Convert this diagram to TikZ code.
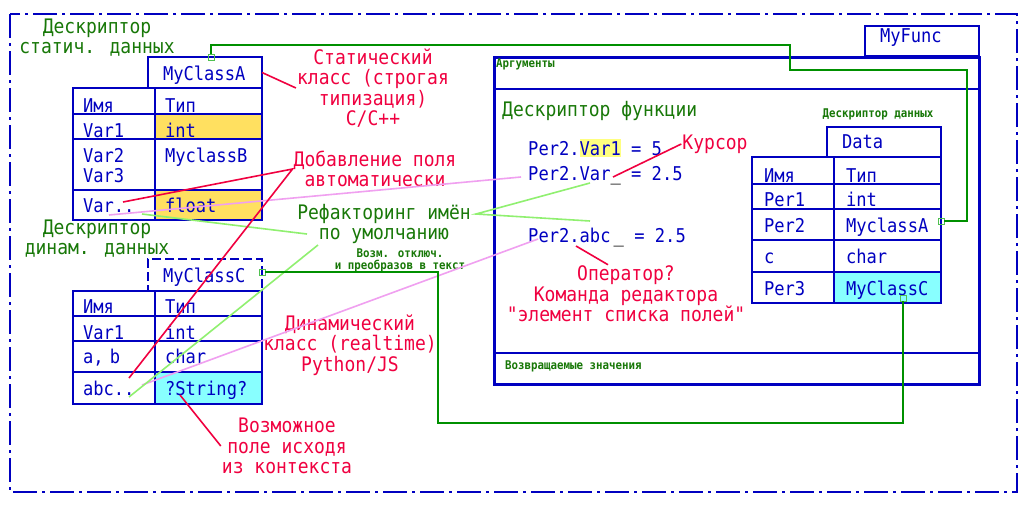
\documentclass[tikz,border=0pt]{standalone}
\usepackage{fontspec}
\usepackage{xcolor}
\usepackage{tikz}
\newfontfamily\cadfont[FakeStretch=0.9]{DejaVu Sans Mono}
\definecolor{cadblue}{RGB}{0,0,192}
\definecolor{cadgreen}{RGB}{24,120,8}
\definecolor{cadred}{RGB}{240,0,64}
\definecolor{linkgreen}{RGB}{0,144,0}
\definecolor{portgreen}{RGB}{80,192,80}
\definecolor{refgreen}{RGB}{144,240,112}
\definecolor{pinkline}{RGB}{240,160,240}
\definecolor{cadyellow}{RGB}{255,224,96}
\definecolor{cadcyan}{RGB}{136,255,255}
\definecolor{hilite}{RGB}{255,255,128}
\tikzset{
  % --- sheet and function frame ----------------------------------------------
  sheet/.style={draw=cadblue,line width=2pt,
                dash pattern=on 24pt off 5pt on 3pt off 5pt},
  funcframe/.style={draw=cadblue,line width=3pt,anchor=north west,inner sep=0pt,
                    outer sep=0pt,minimum width=485pt,minimum height=327pt},
  sepline/.style={cadblue,line width=2pt},
  % --- descriptor tables -----------------------------------------------------
  cell/.style={draw=cadblue,line width=2pt,anchor=north west,inner sep=0pt,
               outer sep=0pt,inner xsep=10pt,align=left,text=cadblue,
               font=\cadfont\fontsize{19}{20}\selectfont},
  hdr/.style={draw=cadblue,line width=1.2pt,anchor=north west,inner sep=0pt,
              outer sep=0pt,inner xsep=15pt,text width=84pt,align=left,
              text=cadblue,font=\cadfont\fontsize{19}{20}\selectfont},
  code/.style={anchor=base west,inner sep=0pt,text=cadblue,
               font=\cadfont\fontsize{19}{20}\selectfont},
  % --- annotations -----------------------------------------------------------
  redlab/.style={text=cadred,align=center,inner sep=1pt,
                 font=\cadfont\fontsize{20}{20.5}\selectfont},
  grnlab/.style={text=cadgreen,align=center,inner sep=1pt,
                 font=\cadfont\fontsize{20}{20}\selectfont},
  tinylab/.style={text=cadgreen,align=center,inner sep=1pt,
                  font=\cadfont\bfseries\fontsize{12}{12}\selectfont},
  % --- connectors ------------------------------------------------------------
  link/.style={linkgreen,line width=2pt},
  port/.style={draw=portgreen,line width=0.8pt,minimum size=6pt,inner sep=0pt},
  redln/.style={cadred,line width=1.6pt},
  pinkln/.style={pinkline,line width=1.6pt},
  grnln/.style={refgreen,line width=1.6pt},
}

\begin{document}
\begin{tikzpicture}[x=1pt,y=-1pt,font=\cadfont]
  \useasboundingbox (0,0) rectangle (1033,504);
  \fill[white] (0,0) rectangle (1033,504);
  \draw[sheet] (10,14) rectangle (1017,492);

  \def\xa{73}    % left edge, tables A and C
  \def\xb{155}   % column split, tables A and C
  \def\xd{752}   % left edge, Data
  \def\xe{834}   % column split, Data

  % {row}{top}{height}{baseline above bottom: name, type}{name}{type}{fill}
  \foreach \i/\ry/\rh/\bn/\bt/\nm/\tp/\fl in {%
      1/88/26/2/2/Имя/Тип/white,
      2/114/25/2/2/Var1/int/cadyellow,
      3/139/51/28/28/{Var2\\Var3}/MyclassB/white,
      4/190/30/8/8/Var../float/cadyellow}
  {
    \pgfmathsetmacro{\tha}{\rh-2-\bn}
    \pgfmathsetmacro{\tda}{\bn-2}
    \pgfmathsetmacro{\thb}{\rh-2-\bt}
    \pgfmathsetmacro{\tdb}{\bt-2}
    \node[cell,text width=62pt,minimum height=\rh pt,text height=\tha pt,
          text depth=\tda pt] (A-n\i) at (\xa,\ry) {\nm};
    \node[cell,fill=\fl,text width=87pt,minimum height=\rh pt,
          text height=\thb pt,text depth=\tdb pt] (A-t\i) at (\xb,\ry) {\tp};
  }
  \foreach \i/\ry/\rh/\bn/\bt/\nm/\tp/\fl in {%
      1/291/25/3/3/Имя/Тип/white,
      2/316/25/2/2/Var1/int/white,
      3/341/31/9/9/{a, b}/char/white,
      4/372/32/9/9/abc../?String?/cadcyan}
  {
    \pgfmathsetmacro{\tha}{\rh-2-\bn}
    \pgfmathsetmacro{\tda}{\bn-2}
    \pgfmathsetmacro{\thb}{\rh-2-\bt}
    \pgfmathsetmacro{\tdb}{\bt-2}
    \node[cell,text width=62pt,minimum height=\rh pt,text height=\tha pt,
          text depth=\tda pt] (C-n\i) at (\xa,\ry) {\nm};
    \node[cell,fill=\fl,text width=87pt,minimum height=\rh pt,
          text height=\thb pt,text depth=\tdb pt] (C-t\i) at (\xb,\ry) {\tp};
  }
  \foreach \i/\ry/\rh/\bn/\bt/\nm/\tp/\fl in {%
      1/157/27/2/2/Имя/Тип/white,
      2/184/25/3/3/Per1/int/white,
      3/209/31/8/8/Per2/MyclassA/white,
      4/240/32/9/9/c/char/white,
      5/272/31/8/8/Per3/MyClassC/cadcyan}
  {
    \pgfmathsetmacro{\tha}{\rh-2-\bn}
    \pgfmathsetmacro{\tda}{\bn-2}
    \pgfmathsetmacro{\thb}{\rh-2-\bt}
    \pgfmathsetmacro{\tdb}{\bt-2}
    \node[cell,inner xsep=12pt,text width=58pt,minimum height=\rh pt,
          text height=\tha pt,text depth=\tda pt] (D-n\i) at (\xd,\ry) {\nm};
    \node[cell,inner xsep=12pt,fill=\fl,text width=83pt,minimum height=\rh pt,
          text height=\thb pt,text depth=\tdb pt] (D-t\i) at (\xe,\ry) {\tp};
  }

  % class headers
  \node[hdr,minimum height=31pt,text height=21pt,text depth=6pt]
       (hdrA) at (148,57) {MyClassA};
  \node[hdr,dash pattern=on 9pt off 4pt,minimum height=32pt,text height=21pt,
        text depth=7pt] (hdrC) at (148,259) {MyClassC};
  \node[hdr,minimum height=30pt,text height=19pt,text depth=7pt]
       (hdrD) at (827,127) {Data};

  % function frame
  \node[funcframe] (func) at (494,57) {};
  \draw[sepline] ([yshift=-32pt]func.north west) -- ([yshift=-32pt]func.north east);
  \draw[sepline] ([yshift=31pt]func.south west) -- ([yshift=31pt]func.south east);
  \node[hdr,minimum height=30pt,text height=14pt,text depth=12pt]
       (hdrF) at (865,26) {MyFunc};
  \node[tinylab,anchor=north west,inner sep=2pt] (args) at (func.north west) {Аргументы};
  \node[tinylab,anchor=west] (rets) at ([xshift=10pt,yshift=18pt]func.south west)
       {Возвращаемые значения};
  \node[grnlab,anchor=base west] (fdesc) at (501,116) {Дескриптор функции};
  \node[tinylab] (ddesc) at (878,114) {Дескриптор данных};

  \node[code] (ln1) at (528,155)
       {Per2.{\fboxsep=0pt\colorbox{hilite}{\rule[-2pt]{0pt}{18pt}Var1}} = 5};
  \node[code] (ln2) at (528,180) {Per2.Var\textcolor{black}{\_} = 2.5};
  \node[code] (ln3) at (528,242) {Per2.abc\,\textcolor{black}{\_} = 2.5};

  % descriptor captions
  \node[grnlab] (statdesc) at (97,38) {Дескриптор\\статич. данных};
  \node[grnlab] (dyndesc) at (97,239) {Дескриптор\\динам. данных};
  \node[grnlab] (refac) at (384,224) {Рефакторинг имён\\по умолчанию};
  \node[tinylab,inner sep=0pt] (refnote) at (400,260)
       {Возм. отключ.\\и преобразов в текст};

  % red notes
  \node[redlab] (lblStatic) at (373,88) {Статический\\класс (строгая\\типизация)\\C/C++};
  \node[redlab] (lblAdd) at (375,169) {Добавление поля\\автоматически};
  \node[redlab] (lblDyn) at (350,345) {Динамический\\класс (realtime)\\Python/JS};
  \node[redlab] (lblMaybe) at (287,446) {Возможное\\поле исходя\\из контекста};
  \node[redlab] (lblCursor) at (715,144) {Курсор};
  \node[redlab] (lblOper) at (626,294)
       {Оператор?\\Команда редактора\\"элемент списка полей"};

  % free ends of the annotation lines
  \coordinate (aVarR) at (123,202);
  \coordinate (aVarP) at (109,215);
  \coordinate (aVarG) at (142,214);
  \coordinate (cAbcR) at (129,378);
  \coordinate (cAbcG) at (129,397);
  \coordinate (cAbcP) at (142,385);
  \coordinate (cStr)  at (180,395);
  \coordinate (fVarP) at (521,177);
  \coordinate (fVarG) at (590,183);
  \coordinate (fGap)  at (590,221);
  \coordinate (fAbcP) at (538,239);
  \coordinate (fCur)  at (613,177);
  \coordinate (fDot)  at (576,246);
  \coordinate (refR)  at (476,214);
  \coordinate (refL)  at (307,234);
  \coordinate (refL2) at (318,245);

  \draw[pinkln] (aVarP) -- (fVarP);
  \draw[pinkln] (cAbcP) -- (fAbcP);
  \draw[grnln] (fVarG) -- (refR) -- (fGap);
  \draw[grnln] (aVarG) -- (refL);
  \draw[grnln] (cAbcG) -- (refL2);
  \draw[redln] (hdrA.east) -- (lblStatic.west);
  \draw[redln] (aVarR) -- (lblAdd.west) -- (cAbcR);
  \draw[redln] (lblCursor.west) -- (fCur);
  \draw[redln] ([xshift=-18pt]lblOper.north) -- (fDot);
  \draw[redln] (lblMaybe.west) -- (cStr);

  % type links between descriptors
  \node[port] (pA) at (211,57) {};
  \node[port] (pC) at (262,272) {};
  \node[port] (pD) at (941,221) {};
  \node[port] (p3) at (903,298) {};
  \draw[link] (pA) |- (790,45) |- (967,70) |- (pD);
  \draw[link] (pC) -| (438,423) -| (p3);
\end{tikzpicture}
\end{document}
